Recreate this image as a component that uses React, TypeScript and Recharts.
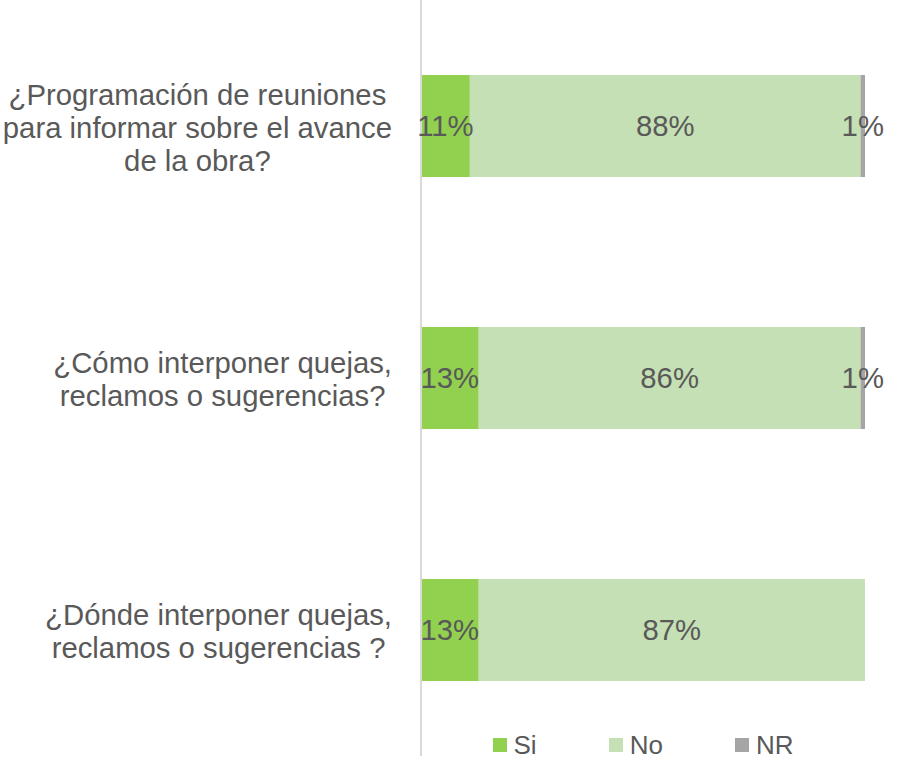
import React from "react";
import { BarChart, Bar, XAxis, YAxis, LabelList, Legend } from "recharts";

const categories: string[][] = [
  ["¿Programación de reuniones", "para informar sobre el avance", "de la obra?"],
  ["¿Cómo interponer quejas,", "reclamos o sugerencias?"],
  ["¿Dónde interponer quejas,", "reclamos o sugerencias ?"],
];
const siValues = [11, 13, 13];
const noValues = [88, 86, 87];
const nrValues = [1, 1, 0];
const seriesKeys = ["si", "no", "nr"];
const seriesNames = ["Si", "No", "NR"];
const seriesColors = ["#92d050", "#c5e0b4", "#a5a5a5"];

const data = categories.map((lines, i) => ({
  name: lines.join("\n"),
  si: siValues[i],
  no: noValues[i],
  nr: nrValues[i],
}));

const FONT = "'Liberation Sans', Arial, sans-serif";
const TEXT = "#595959";
const CAT_SIZE = 29.3;
const LABEL_SIZE = 29.3;

let ctx: CanvasRenderingContext2D | null = null;
function measure(s: string, size: number) {
  if (!ctx) {
    const c = document.createElement("canvas");
    ctx = c.getContext("2d");
  }
  if (!ctx) return s.length * size * 0.5;
  ctx.font = `${size}px 'Liberation Sans', Arial, sans-serif`;
  return ctx.measureText(s).width;
}

const CategoryTick = (props: any) => {
  const { x, y, payload } = props;
  const lines: string[] = String(payload.value).split("\n");
  const lh = 33;
  const maxW = Math.max(...lines.map((l) => measure(l, CAT_SIZE)));
  const cx = x - maxW / 2;
  const start = -((lines.length - 1) / 2) * lh + 1;
  return (
    <text x={cx} y={y} textAnchor="middle" fill={TEXT} fontSize={CAT_SIZE} fontFamily={FONT}>
      {lines.map((l, i) => (
        <tspan key={i} x={cx} y={y + start + i * lh} dominantBaseline="central">
          {l}
        </tspan>
      ))}
    </text>
  );
};

const fmt = (v: any) => (v && Number(v) > 0 ? `${v}%` : "");

const LegendContent = () => (
  <div style={{ display: "flex", justifyContent: "center", gap: 72, fontFamily: FONT, fontSize: 26, color: TEXT, lineHeight: "30px" }}>
    {seriesNames.map((n, i) => (
      <div key={n} style={{ display: "flex", alignItems: "center" }}>
        <span style={{ display: "inline-block", width: 14, height: 14, background: seriesColors[i], marginRight: 7 }} />
        <span>{n}</span>
      </div>
    ))}
  </div>
);

export default function App() {
  return (
    <div style={{ position: "absolute", left: 0, top: 0, width: 897, height: 760, background: "#fff" }}>
      <BarChart
        width={897}
        height={756}
        data={data}
        layout="vertical"
        margin={{ top: 0, right: 32, bottom: 0, left: 0 }}
        barSize={102}
      >
        <XAxis type="number" domain={[0, 100]} hide />
        <YAxis
          type="category"
          dataKey="name"
          width={421}
          axisLine={{ stroke: "#d9d9d9", strokeWidth: 2 }}
          tickLine={false}
          tickSize={0}
          tickMargin={29}
          tick={<CategoryTick />}
          interval={0}
        />
        <Legend
          layout="horizontal"
          verticalAlign="middle"
          align="center"
          wrapperStyle={{ left: 421, width: 444, top: 730 }}
          content={<LegendContent />}
        />
        {seriesKeys.map((k, i) => (
          <Bar key={k} dataKey={k} name={seriesNames[i]} stackId="a" fill={seriesColors[i]} isAnimationActive={false}>
            <LabelList dataKey={k} position="center" formatter={fmt} fill={TEXT} fontSize={LABEL_SIZE} fontFamily={FONT} />
          </Bar>
        ))}
      </BarChart>
    </div>
  );
}
